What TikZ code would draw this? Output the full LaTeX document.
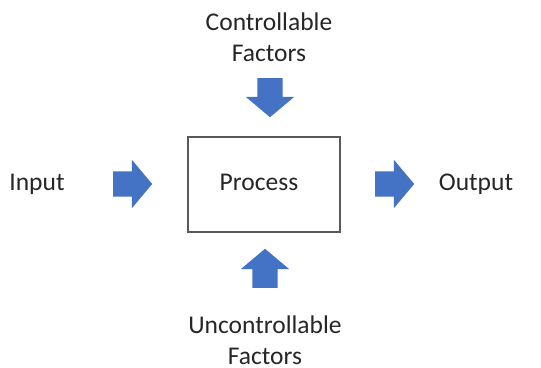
\documentclass[tikz,border=0pt]{standalone}
\usepackage{fontspec}
\setmainfont{Carlito}
\usepackage{tikz}
\usetikzlibrary{shapes.arrows}

\definecolor{arrowblue}{HTML}{4472C4}
\definecolor{boxgray}{HTML}{595959}

\begin{document}
\begin{tikzpicture}[x=1pt,y=-1pt,
    every node/.style={font=\fontsize{25.5}{31}\selectfont,text=black!85},
    label/.style={align=center,inner sep=0pt},
    blockarrow/.style={single arrow,fill=arrowblue,draw=none,anchor=tail,
        minimum height=39pt,minimum width=48pt,
        single arrow head extend=11.5pt,single arrow tip angle=100},
    harrow/.style={blockarrow,inner xsep=0pt,inner ysep=12.5pt},
    varrow/.style={blockarrow,inner xsep=12.5pt,inner ysep=0pt}]
    \useasboundingbox (0,0) rectangle (541,367);
    \node[draw=boxgray,line width=1.2pt,minimum width=152pt,minimum height=95pt,inner sep=0pt] (proc) at (264,184.5) {};
    \node[label] (proctext) at (259,182) {Process};
    \node[label] (in) at (37,184) {Input};
    \node[label] (out) at (476,184) {Output};
    \node[label] (ctrl) at (269,37) {Controllable\\Factors};
    \node[label] (unctrl) at (265,340) {Uncontrollable\\Factors};
    % block arrows, placed by their tails
    \node[harrow] (ain) at (113,184) {};
    \node[harrow] (aout) at (375,184) {};
    \node[varrow,shape border rotate=270] (actrl) at (270,78) {};
    \node[varrow,shape border rotate=90] (aunctrl) at (265,288) {};
\end{tikzpicture}
\end{document}
